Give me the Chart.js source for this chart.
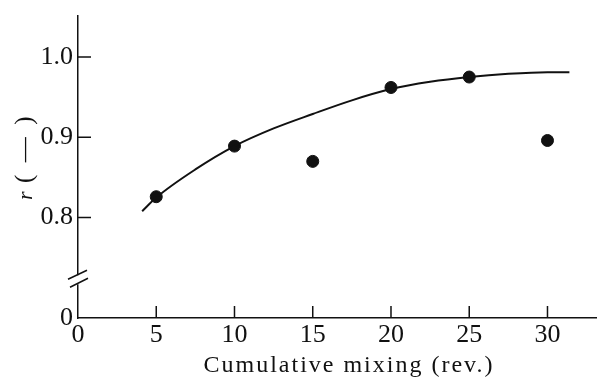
<!DOCTYPE html>
<html>
<head>
<meta charset="utf-8">
<script src="https://cdn.jsdelivr.net/npm/chart.js@4/dist/chart.umd.min.js"></script>
<style>
  html, body { margin: 0; padding: 0; background: #fff; }
  #wrap { width: 603px; height: 378px; position: relative; }
</style>
</head>
<body>
<div id="wrap"><canvas id="chart" width="603" height="378"></canvas></div>
<script>
// measured points r vs cumulative mixing
const mixRev = [5, 10, 15, 20, 25, 30];
const rValues = [0.826, 0.889, 0.870, 0.962, 0.975, 0.896];

// smooth fitted curve
const curveX = [4.1, 5, 7.5, 10, 12.5, 15, 17.5, 20, 22.5, 25, 27.5, 30, 31.4];
const curveY = [0.808, 0.825, 0.860, 0.889, 0.911, 0.929, 0.946, 0.960, 0.969, 0.975, 0.979, 0.981, 0.981];

const xTicks = [0, 5, 10, 15, 20, 25, 30];
const yTicks = [0.675, 0.8, 0.9, 1.0]; // 0.675 is the broken-axis origin, labelled "0"
const yBreak = 0.722;

const xTitle = "Cumulative mixing (rev.)";
const yTitleSym = "r";
const yTitleUnit = "(  —  )";

const serif = "'Liberation Serif', 'DejaVu Serif', serif";

const decorations = {
  id: "decorations",
  afterDraw(chart) {
    const { ctx, chartArea, scales } = chart;
    ctx.save();
    ctx.strokeStyle = "#111";
    ctx.lineWidth = 1.5;
    ctx.beginPath();
    yTicks.slice(1).forEach(v => {
      const y = scales.y.getPixelForValue(v);
      ctx.moveTo(chartArea.left, y);
      ctx.lineTo(chartArea.left + 13, y);
    });
    xTicks.slice(1).forEach(v => {
      const x = scales.x.getPixelForValue(v);
      ctx.moveTo(x, chartArea.bottom);
      ctx.lineTo(x, chartArea.bottom - 12);
    });
    ctx.stroke();

    // axis break marks
    const yb = scales.y.getPixelForValue(yBreak);
    const x0 = chartArea.left;
    ctx.fillStyle = "#fff";
    ctx.fillRect(x0 - 2, yb - 5, 4, 9);
    ctx.beginPath();
    ctx.moveTo(x0 - 10, yb - 1);
    ctx.lineTo(x0 + 9, yb - 10);
    ctx.moveTo(x0 - 8, yb + 7);
    ctx.lineTo(x0 + 10, yb - 2);
    ctx.stroke();

    // axis titles
    ctx.fillStyle = "#111";
    ctx.textBaseline = "alphabetic";
    ctx.textAlign = "center";
    ctx.font = `24px ${serif}`;
    ctx.letterSpacing = "2px";
    ctx.fillText(xTitle, 349, 372);
    ctx.letterSpacing = "0px";

    ctx.translate(32, 164);
    ctx.rotate(-Math.PI / 2);
    ctx.textAlign = "left";
    ctx.font = `italic 22px ${serif}`;
    ctx.fillText(yTitleSym, -36, 0);
    ctx.font = `25px ${serif}`;
    ctx.fillText(yTitleUnit, -19, 0);
    ctx.restore();
  }
};

new Chart(document.getElementById("chart"), {
  type: "scatter",
  data: {
    datasets: [
      {
        label: "curve",
        data: curveX.map((x, i) => ({ x, y: curveY[i] })),
        showLine: true,
        borderColor: "#111",
        borderWidth: 2,
        pointRadius: 0,
        tension: 0.4,
        cubicInterpolationMode: "monotone"
      },
      {
        label: "measured",
        data: mixRev.map((x, i) => ({ x, y: rValues[i] })),
        backgroundColor: "#111",
        borderColor: "#111",
        pointRadius: 6
      }
    ]
  },
  options: {
    responsive: false,
    animation: false,
    layout: { padding: { top: 16, right: 1, left: 0, bottom: 0 } },
    plugins: { legend: { display: false }, tooltip: { enabled: false } },
    scales: {
      x: {
        type: "linear",
        min: 0,
        max: 33.1,
        afterBuildTicks: axis => { axis.ticks = xTicks.map(v => ({ value: v })); },
        afterFit: axis => { axis.height = 60; axis.paddingRight = 0; axis.paddingLeft = 0; },
        grid: { display: false, drawTicks: false, tickLength: 0 },
        border: { color: "#111", width: 1.5 },
        ticks: {
          color: "#111",
          padding: 2,
          maxRotation: 0,
          font: { family: serif, size: 26 }
        }
      },
      y: {
        type: "linear",
        min: 0.675,
        max: 1.051,
        afterBuildTicks: axis => { axis.ticks = yTicks.map(v => ({ value: v })); },
        afterFit: axis => { axis.width = 78; axis.paddingTop = 0; axis.paddingBottom = 0; },
        grid: { display: false, drawTicks: false, tickLength: 0 },
        border: { color: "#111", width: 1.5 },
        ticks: {
          color: "#111",
          padding: 5,
          font: { family: serif, size: 26 },
          callback: v => (v < 0.7 ? "0" : v.toFixed(1))
        }
      }
    }
  },
  plugins: [decorations]
});
</script>
</body>
</html>
